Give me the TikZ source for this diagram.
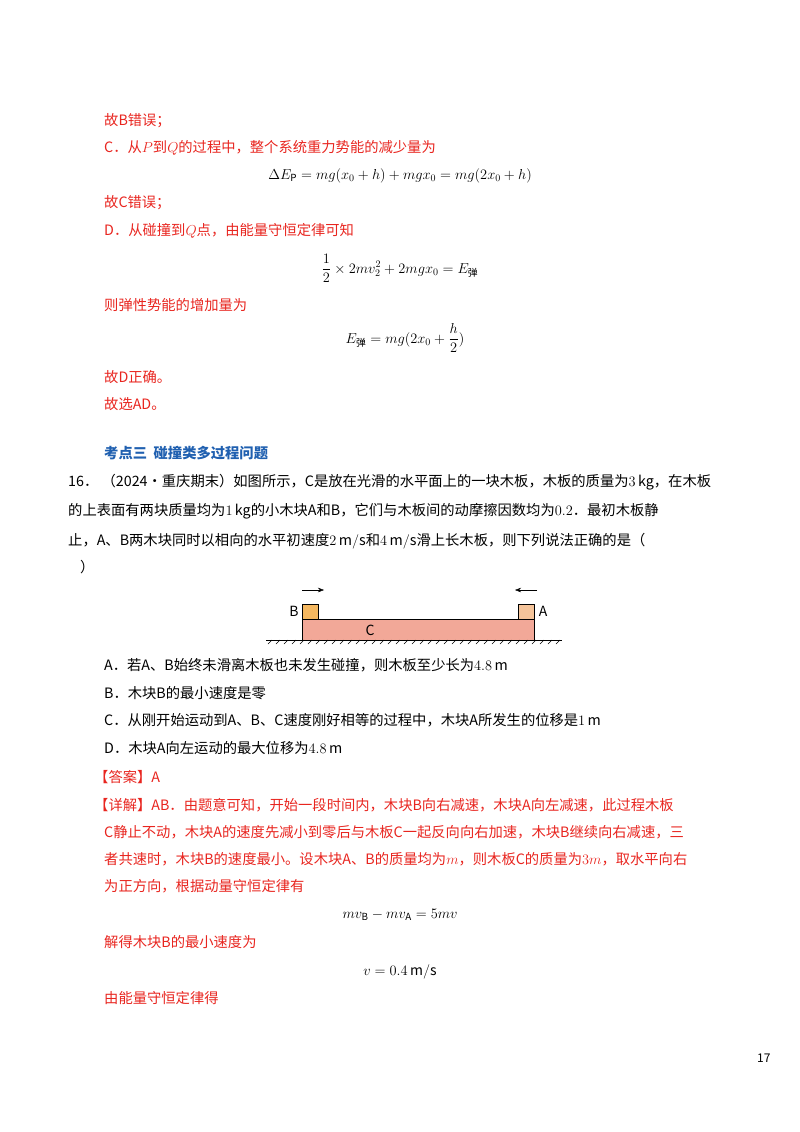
\documentclass[tikz,border=0pt]{standalone}
\usepackage{amsmath}
\usepackage{fontspec}
\setmainfont{Noto Sans CJK SC}
\usetikzlibrary{arrows.meta,patterns}
\definecolor{myred}{HTML}{E8251F}
\definecolor{myblue}{HTML}{2060B0}
\definecolor{boardc}{HTML}{F2A898}
\definecolor{blockb}{HTML}{F5B860}
\definecolor{blocka}{HTML}{F5C49A}
\begin{document}
\begin{tikzpicture}[x=1pt,y=-1pt,
  tx/.style={anchor=base west,inner sep=0pt,font=\fontsize{14.3}{16}\selectfont},
  rt/.style={tx,text=myred},
  eq/.style={anchor=base,inner sep=0pt,font=\fontsize{14}{16}\selectfont}]
\useasboundingbox (0,0) rectangle (800,1132);
\node[rt] (l1) at (104,125) {故B错误；};
\node[rt] (l2) at (104,152) {C．从$P$到$Q$的过程中，整个系统重力势能的减少量为};
\node[eq] (e1) at (400,179) {$\Delta E_{\rm P}=mg(x_0+h)+mgx_0=mg(2x_0+h)$};
\node[rt] (l3) at (104,207) {故C错误；};
\node[rt] (l4) at (104,235) {D．从碰撞到$Q$点，由能量守恒定律可知};
\node[eq] (e2) at (400,273) {$\dfrac{1}{2}\times 2mv_2^2+2mgx_0=E_{\text{弹}}$};
\node[rt] (l5) at (104,310) {则弹性势能的增加量为};
\node[eq] (e3) at (405,343) {$E_{\text{弹}}=mg(2x_0+\dfrac{h}{2})$};
\node[rt] (l6) at (104,382) {故D正确。};
\node[rt] (l7) at (104,409) {故选AD。};
\node[tx,text=myblue,font=\fontsize{14.3}{16}\selectfont\bfseries] (k3) at (104,458) {考点三\ \ 碰撞类多过程问题};
\node[tx] (q1) at (68,486) {16．\ （2024·重庆期末）如图所示，C是放在光滑的水平面上的一块木板，木板的质量为$3\,$kg，在木板};
\node[tx] (q2) at (68,515) {的上表面有两块质量均为$1\,$kg的小木块A和B，它们与木板间的动摩擦因数均为$0.2$．最初木板静};
\node[tx] (q3) at (68,545) {止，A、B两木块同时以相向的水平初速度$2\,\mathrm{m/s}$和$4\,\mathrm{m/s}$滑上长木板，则下列说法正确的是（};
\node[tx] (q4) at (80,572) {）};
% diagram
\draw[fill=boardc] (302,619) rectangle (534,640);
\draw[fill=blockb] (302,604) rectangle (318,619);
\draw[fill=blocka] (518,604) rectangle (534,619);
\node[inner sep=0pt,font=\fontsize{14}{16}\selectfont] (lb) at (294,611) {B};
\node[inner sep=0pt,font=\fontsize{14}{16}\selectfont] (la) at (543,611) {A};
\node[inner sep=0pt,font=\fontsize{14}{16}\selectfont] (lc) at (370,630) {C};
\draw (266,640) -- (562,640);
\foreach \i in {0,...,36} \draw (268+8*\i,644) -- (272+8*\i,640);
\draw[-{Stealth[length=6pt]}] (302,590) -- (324,590);
\draw[-{Stealth[length=6pt]}] (537,590) -- (515,590);
\node[tx] (oa) at (104,670) {A．若A、B始终未滑离木板也未发生碰撞，则木板至少长为$4.8\,$m};
\node[tx] (ob) at (104,698) {B．木块B的最小速度是零};
\node[tx] (oc) at (104,725) {C．从刚开始运动到A、B、C速度刚好相等的过程中，木块A所发生的位移是$1\,$m};
\node[tx] (od) at (104,753) {D．木块A向左运动的最大位移为$4.8\,$m};
\node[rt] (ans) at (94,782) {【答案】A};
\node[rt] (d1) at (94,810) {【详解】AB．由题意可知，开始一段时间内，木块B向右减速，木块A向左减速，此过程木板};
\node[rt] (d2) at (104,837) {C静止不动，木块A的速度先减小到零后与木板C一起反向向右加速，木块B继续向右减速，三};
\node[rt] (d3) at (104,864) {者共速时，木块B的速度最小。设木块A、B的质量均为$m$，则木板C的质量为$3m$，取水平向右};
\node[rt] (d4) at (104,891) {为正方向，根据动量守恒定律有};
\node[eq] (e4) at (400,918) {$mv_{\rm B}-mv_{\rm A}=5mv$};
\node[rt] (d5) at (104,947) {解得木块B的最小速度为};
\node[eq] (e5) at (400,975) {$v=0.4\,\mathrm{m/s}$};
\node[rt] (d6) at (104,1003) {由能量守恒定律得};
\node[tx,font=\fontsize{12}{14}\selectfont] (pg) at (757,1062) {17};
\end{tikzpicture}
\end{document}
